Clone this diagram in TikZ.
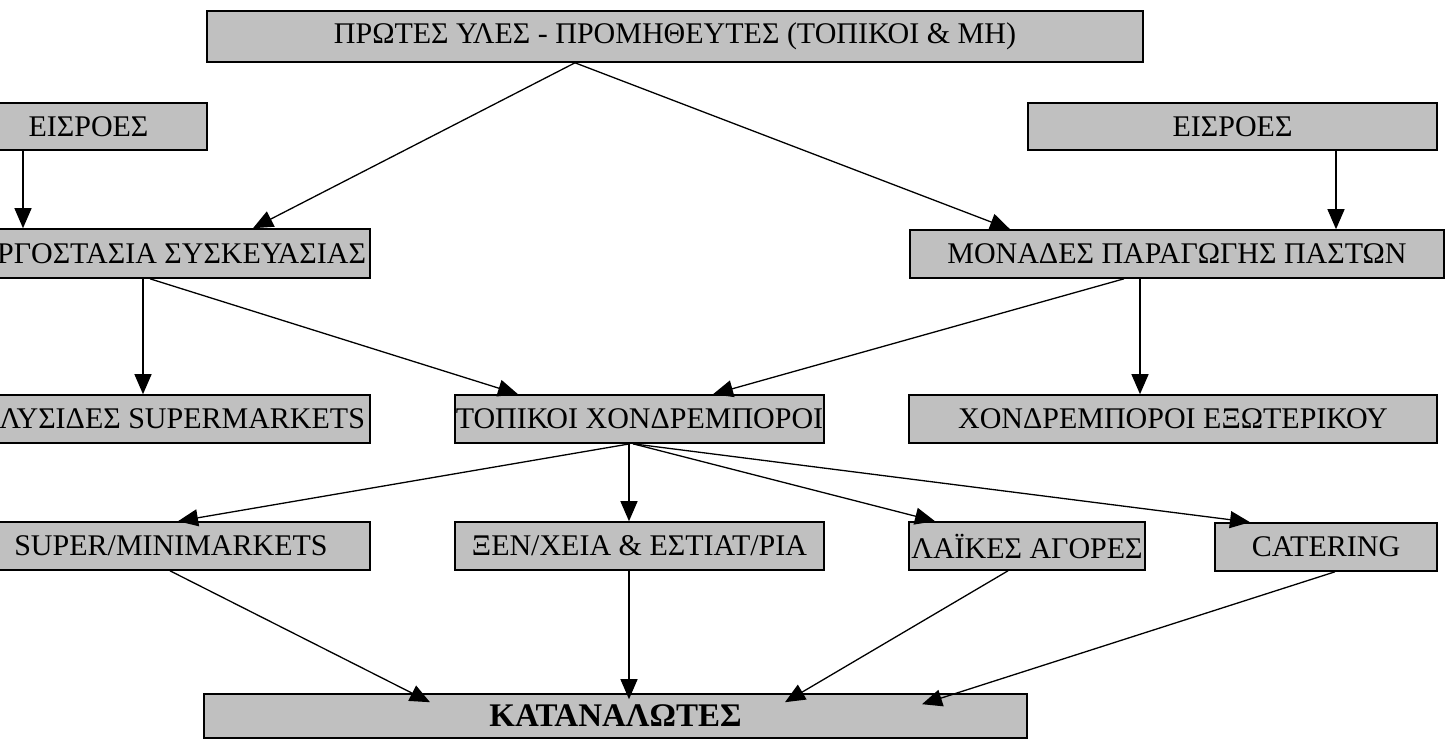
\documentclass[tikz,border=0pt]{standalone}
\usepackage{fontspec}
\setmainfont{Liberation Serif}
\usetikzlibrary{arrows.meta}
\definecolor{boxgray}{RGB}{192,192,192}
\tikzset{
 box/.style={draw=black, line width=1.6pt, fill=boxgray, inner sep=0pt, font=\fontsize{30}{32}\selectfont},
 conn/.style={line width=1.3pt, -{Triangle[length=20pt,width=17pt]}},
}
\newcommand\bt[3]{\makebox[#1pt][#2]{#3}}
\begin{document}
\begin{tikzpicture}[x=1pt,y=-1pt]
\useasboundingbox (0,0) rectangle (1449,739);
\clip (0,0) rectangle (1449,739);
\node[box,minimum height=51pt] (top) at (675,36.5) {\bt{936}{c}{ΠΡΩΤΕΣ ΥΛΕΣ - ΠΡΟΜΗΘΕΥΤΕΣ (ΤΟΠΙΚΟΙ \& ΜΗ)}};
\node[box,minimum height=47pt] (inL) at (88.5,126.5) {\bt{237}{c}{ΕΙΣΡΟΕΣ}};
\node[box,minimum height=47pt] (inR) at (1232.5,126.5) {\bt{409}{c}{ΕΙΣΡΟΕΣ}};
\node[box,minimum height=49pt] (erg) at (165,253.5) {\bt{410}{r}{ΕΡΓΟΣΤΑΣΙΑ ΣΥΣΚΕΥΑΣΙΑΣ\hspace{4pt}}};
\node[box,minimum height=48pt] (mon) at (1177,254) {\bt{534}{c}{ΜΟΝΑΔΕΣ ΠΑΡΑΓΩΓΗΣ ΠΑΣΤΩΝ}};
\node[box,minimum height=48pt] (alys) at (165,419) {\bt{410}{r}{ΑΛΥΣΙΔΕΣ SUPERMARKETS\hspace{5pt}}};
\node[box,minimum height=48pt] (tpk) at (639.5,419) {\bt{369}{c}{ΤΟΠΙΚΟΙ ΧΟΝΔΡΕΜΠΟΡΟΙ}};
\node[box,minimum height=48pt] (xex) at (1173,419) {\bt{528}{c}{ΧΟΝΔΡΕΜΠΟΡΟΙ ΕΞΩΤΕΡΙΚΟΥ}};
\node[box,minimum height=48pt] (sup) at (171,546) {\bt{398}{c}{SUPER/MINIMARKETS}};
\node[box,minimum height=48pt] (xen) at (639.5,546) {\bt{369}{c}{ΞΕΝ/ΧΕΙΑ \& ΕΣΤΙΑΤ/ΡΙΑ}};
\node[box,minimum height=48pt] (laik) at (1027,546) {\bt{236}{c}{ΛΑΪΚΕΣ ΑΓΟΡΕΣ}};
\node[box,minimum height=48pt] (cat) at (1326,547) {\bt{222}{c}{CATERING}};
\node[box,minimum height=44pt] (kat) at (615.5,716) {\bt{823}{c}{\fontsize{33}{34}\selectfont\textbf{ΚΑΤΑΝΑΛΩΤΕΣ}}};

\draw[conn] ([xshift=-100pt]top.south) -- ([xshift=88pt]erg.north);
\draw[conn] ([xshift=-100pt]top.south) -- ([xshift=-167pt]mon.north);
\draw[conn] ([xshift=-65.5pt]inL.south) -- ([xshift=-142pt]erg.north);
\draw[conn] ([xshift=103.5pt]inR.south) -- ([xshift=159pt]mon.north);
\draw[conn] ([xshift=-22pt]erg.south) -- ([xshift=-22pt]alys.north);
\draw[conn] ([xshift=-15pt]erg.south) -- ([xshift=-121.5pt]tpk.north);
\draw[conn] ([xshift=-53pt]mon.south) -- ([xshift=73.5pt]tpk.north);
\draw[conn] ([xshift=-37pt]mon.south) -- ([xshift=-33pt]xex.north);
\draw[conn] ([xshift=-9.5pt]tpk.south) -- ([xshift=7pt]sup.north);
\draw[conn] ([xshift=-10.5pt]tpk.south) -- ([xshift=-10.5pt]xen.north);
\draw[conn] ([xshift=-6.5pt]tpk.south) -- ([xshift=-92pt]laik.north);
\draw[conn] ([xshift=-6.5pt]tpk.south) -- ([xshift=-76pt]cat.north);
\draw[conn] ([xshift=-1pt]sup.south) -- ([xshift=-185.5pt,yshift=-9pt]kat.north);
\draw[conn] ([xshift=-10.5pt]xen.south) -- ([xshift=13.5pt,yshift=-6pt]kat.north);
\draw[conn] ([xshift=-19pt]laik.south) -- ([xshift=169.5pt,yshift=-9pt]kat.north);
\draw[conn] ([xshift=9pt]cat.south) -- ([xshift=306.5pt,yshift=-11pt]kat.north);
\end{tikzpicture}
\end{document}
